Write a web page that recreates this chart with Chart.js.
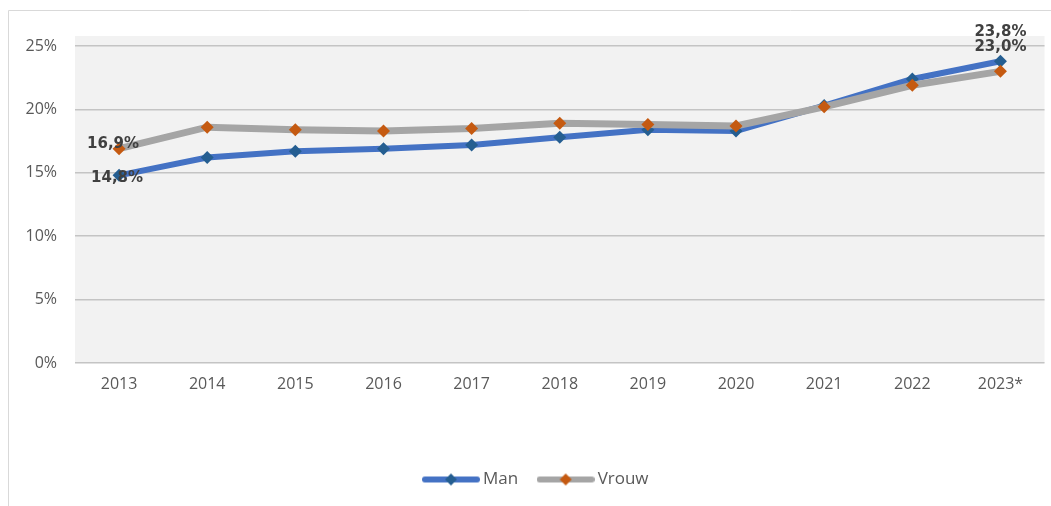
<!DOCTYPE html>
<html>
<head>
<meta charset="utf-8">
<script src="https://cdn.jsdelivr.net/npm/chart.js@4/dist/chart.umd.min.js"></script>
<style>
  html, body { margin: 0; padding: 0; background: #fff; }
  #wrap { width: 1051px; height: 506px; position: relative; }
</style>
</head>
<body>
<div id="wrap"><canvas id="lineChart"></canvas></div>
<script>
// jaren en percentages per geslacht
var years = ['2013', '2014', '2015', '2016', '2017', '2018', '2019', '2020', '2021', '2022', '2023*'];
var manValues = [14.8, 16.2, 16.7, 16.9, 17.2, 17.8, 18.4, 18.3, 20.3, 22.4, 23.8];
var vrouwValues = [16.9, 18.6, 18.4, 18.3, 18.5, 18.9, 18.8, 18.7, 20.2, 21.9, 23.0];
var yTicks = [0, 5, 10, 15, 20, 25];

var manLine = '#4472C4', manMarker = '#255E91';
var vrouwLine = '#A5A5A5', vrouwMarker = '#C55A11';
var FONT = '"Open Sans", Lato, sans-serif';

function fmt(v) {
    return v.toFixed(1).replace('.', ',') + '%';
}

// legend-symbool: lijn met ruit (breder dan het vak, zodat de tekst dichterbij staat)
function legendIcon(lineColor, markerColor) {
    var c = document.createElement('canvas');
    c.width = 58; c.height = 14;
    var ctx = c.getContext('2d');
    ctx.strokeStyle = lineColor;
    ctx.lineWidth = 6;
    ctx.lineCap = 'round';
    ctx.beginPath();
    ctx.moveTo(3, 7); ctx.lineTo(55, 7);
    ctx.stroke();
    ctx.fillStyle = markerColor;
    ctx.beginPath();
    ctx.moveTo(29, 1); ctx.lineTo(35, 7); ctx.lineTo(29, 13); ctx.lineTo(23, 7);
    ctx.closePath();
    ctx.fill();
    return c;
}

// achtergrond en kader, legenda iets naar rechts
var frame = {
    id: 'frame',
    afterLayout: function (chart) {
        if (chart.legend) {
            chart.legend.left += 13;
            chart.legend.right += 13;
        }
    },
    beforeDraw: function (chart) {
        var ctx = chart.ctx, a = chart.chartArea;
        ctx.save();
        ctx.fillStyle = '#f2f2f2';
        ctx.fillRect(a.left, a.top - 10, a.right - a.left, a.bottom - a.top + 10);
        ctx.strokeStyle = '#d9d9d9';
        ctx.lineWidth = 1;
        ctx.beginPath();
        ctx.moveTo(8.5, chart.height);
        ctx.lineTo(8.5, 10.5);
        ctx.lineTo(chart.width, 10.5);
        ctx.stroke();
        ctx.restore();
    }
};

// labels bij eerste en laatste punt
var pointLabels = {
    id: 'pointLabels',
    afterDatasetsDraw: function (chart, args, opts) {
        var ctx = chart.ctx;
        ctx.save();
        ctx.font = 'bold 15px "DejaVu Sans", sans-serif';
        ctx.fillStyle = '#404040';
        ctx.textAlign = 'center';
        ctx.textBaseline = 'middle';
        opts.items.forEach(function (it) {
            var el = chart.getDatasetMeta(it.ds).data[it.i];
            var v = chart.data.datasets[it.ds].data[it.i];
            ctx.fillText(fmt(v), el.x + it.dx, el.y + it.dy);
        });
        ctx.restore();
    }
};

var chart = new Chart(document.getElementById('lineChart'), {
    type: 'line',
    data: {
        labels: years,
        datasets: [{
            label: 'Man',
            data: manValues,
            borderColor: manLine,
            backgroundColor: manMarker,
            borderWidth: 6,
            pointStyle: 'rectRot',
            pointRadius: 6.5,
            pointBorderWidth: 0,
            pointBackgroundColor: manMarker,
            tension: 0,
            order: 2
        }, {
            label: 'Vrouw',
            data: vrouwValues,
            borderColor: vrouwLine,
            backgroundColor: vrouwMarker,
            borderWidth: 7,
            pointStyle: 'rectRot',
            pointRadius: 6.5,
            pointBorderWidth: 0,
            pointBackgroundColor: vrouwMarker,
            tension: 0,
            order: 1
        }]
    },
    options: {
        responsive: true,
        maintainAspectRatio: false,
        animation: false,
        layout: { padding: { left: 0, right: 1, top: 46, bottom: 8 } },
        scales: {
            x: {
                offset: true,
                grid: { display: false, drawTicks: false },
                border: { display: false },
                ticks: { color: '#595959', font: { family: FONT, size: 16 }, padding: 12, maxRotation: 0 },
                afterFit: function (s) { s.height = 84; }
            },
            y: {
                min: 0,
                max: 25,
                afterBuildTicks: function (s) { s.ticks = yTicks.map(function (v) { return { value: v }; }); },
                grid: { color: '#c4c4c4', lineWidth: 1.5, drawTicks: false },
                border: { display: false },
                ticks: {
                    color: '#595959',
                    font: { family: FONT, size: 16 },
                    padding: 18,
                    callback: function (v) { return v + '%'; }
                },
                afterFit: function (s) { s.width = 75; }
            }
        },
        plugins: {
            tooltip: { enabled: false },
            legend: {
                position: 'bottom',
                labels: {
                    usePointStyle: true,
                    pointStyleWidth: 47,
                    padding: 24,
                    color: '#595959',
                    font: { family: FONT, size: 17 },
                    generateLabels: function (ch) {
                        return ch.data.datasets.map(function (ds, i) {
                            return {
                                text: ds.label,
                                pointStyle: legendIcon(ds.borderColor, ds.pointBackgroundColor),
                                fillStyle: ds.borderColor,
                                strokeStyle: ds.borderColor,
                                lineWidth: 0,
                                fontColor: '#595959',
                                hidden: false,
                                datasetIndex: i
                            };
                        });
                    }
                }
            },
            pointLabels: {
                items: [
                    { ds: 1, i: 0, dx: -6, dy: -5 },
                    { ds: 0, i: 0, dx: -2, dy: 3 },
                    { ds: 0, i: 10, dx: 0, dy: -29 },
                    { ds: 1, i: 10, dx: 0, dy: -24 }
                ]
            }
        }
    },
    plugins: [frame, pointLabels]
});
</script>
</body>
</html>
